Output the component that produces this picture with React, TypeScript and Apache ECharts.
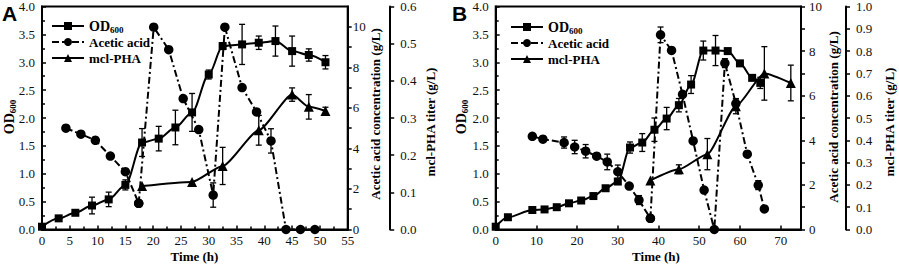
import React, { useEffect, useRef } from 'react';
import * as echarts from 'echarts';

// ---------- Panel A data ----------
const A_OD_T = [0, 3, 6, 9, 12, 15, 18, 21, 24, 27, 30, 32.5, 36, 39, 42, 45, 48, 51];
const A_OD_V = [0.05, 0.2, 0.3, 0.43, 0.54, 0.8, 1.56, 1.63, 1.83, 2.1, 2.78, 3.29, 3.32, 3.35, 3.38, 3.2, 3.13, 3.0];
const A_OD_E = [0, 0, 0, 0.15, 0.13, 0.09, 0.25, 0.22, 0.31, 0.34, 0.08, 0.06, 0.36, 0.12, 0.27, 0.27, 0.11, 0.12];

const A_AC1_T = [4.3, 7, 9.6, 12.3, 15, 17.4];
const A_AC1_V = [5.0, 4.7, 4.4, 3.62, 2.85, 1.29];
const A_AC1_E = [0, 0, 0.15, 0, 0, 0];
const A_AC2_T = [17.4, 20.1, 22.8, 25.4, 28.2, 30.8, 32.9, 36, 38.6, 41.2, 43.9, 46.5, 49.1];
const A_AC2_V = [1.29, 9.98, 8.87, 6.46, 4.93, 1.7, 9.98, 7.0, 5.8, 4.37, 0, 0, 0];
const A_AC2_E = [0, 0, 0, 0, 0, 0.6, 0, 0, 0, 0.6, 0, 0, 0];

const A_PHA_T = [18, 27, 32.5, 39, 45, 48, 51];
const A_PHA_V = [0.117, 0.128, 0.171, 0.267, 0.363, 0.33, 0.319];
const A_PHA_E = [0, 0, 0.05, 0.04, 0.018, 0.033, 0.01];

// ---------- Panel B data ----------
const B_OD_T = [0, 3, 9, 12, 15, 18, 21, 24, 27, 30, 33, 36, 39, 42, 45, 48, 51, 54, 57, 60, 63, 65];
const B_OD_V = [0.05, 0.22, 0.35, 0.36, 0.4, 0.47, 0.52, 0.6, 0.74, 0.86, 1.47, 1.56, 1.79, 1.99, 2.23, 2.6, 3.21, 3.21, 3.2, 2.98, 2.72, 2.63];
const B_OD_E = [0, 0, 0, 0, 0, 0, 0, 0, 0, 0, 0.1, 0.16, 0.21, 0.2, 0.12, 0.16, 0.17, 0.27, 0.05, 0, 0, 0.1];

const B_AC1_T = [9, 11.6, 16.8, 19.4, 22.1, 24.8, 27.4, 30, 32.8, 35.2, 38];
const B_AC1_V = [4.18, 4.05, 3.9, 3.7, 3.51, 3.29, 3.03, 2.59, 1.95, 1.32, 0.5];
const B_AC1_E = [0, 0, 0.25, 0.3, 0.3, 0, 0.35, 0.3, 0, 0.2, 0];
const B_AC2_T = [38, 40.5, 43.2, 45.9, 48.5, 51.2, 53.7, 56.3, 59, 61.8, 64.5, 66];
const B_AC2_V = [0.5, 8.73, 8.03, 6.06, 3.97, 1.77, 0, 7.46, 5.65, 3.38, 1.99, 0.92];
const B_AC2_E = [0, 0.35, 0, 0, 0, 0, 0, 0.2, 0.2, 0, 0.2, 0];

const B_PHA_T = [38, 45, 52, 59, 66, 72.5];
const B_PHA_V = [0.22, 0.27, 0.338, 0.553, 0.7, 0.657];
const B_PHA_E = [0, 0.02, 0.07, 0.034, 0.12, 0.08];

const SERIF = 'Liberation Serif';
const INK = '#000';

const zip = (t: number[], v: number[]) => t.map((x, i) => [x, v[i]]);

function errSeries(xi: number, yi: number, t: number[], v: number[], e: number[]) {
  const data = t.map((x, i) => [x, v[i], e[i]]).filter((d) => d[2] > 0);
  return {
    type: 'custom',
    xAxisIndex: xi,
    yAxisIndex: yi,
    z: 2,
    silent: true,
    renderItem: (_p: any, api: any) => {
      const x = api.value(0);
      const y = api.value(1);
      const er = api.value(2);
      const top = api.coord([x, y + er]);
      const bot = api.coord([x, y - er]);
      const style = { stroke: INK, lineWidth: 1.3 };
      return {
        type: 'group',
        children: [
          { type: 'line', shape: { x1: top[0], y1: top[1], x2: bot[0], y2: bot[1] }, style },
          { type: 'line', shape: { x1: top[0] - 3, y1: top[1], x2: top[0] + 3, y2: top[1] }, style },
          { type: 'line', shape: { x1: bot[0] - 3, y1: bot[1], x2: bot[0] + 3, y2: bot[1] }, style },
        ],
      };
    },
    data,
  };
}

function lineSeries(name: string, xi: number, yi: number, t: number[], v: number[], symbol: string, size: number, lineType: any, smooth: number | boolean) {
  return {
    type: 'line',
    name,
    xAxisIndex: xi,
    yAxisIndex: yi,
    data: zip(t, v),
    symbol,
    symbolSize: size,
    smooth,
    smoothMonotone: 'x',
    z: 3,
    lineStyle: { color: INK, width: 2, type: lineType },
    itemStyle: { color: INK, borderWidth: 0 },
  };
}

const labelStyle = { color: '#111', fontFamily: SERIF, fontSize: 13 };

function xAxis(gi: number, max: number, interval: number, minor: boolean) {
  return {
    type: 'value',
    gridIndex: gi,
    min: 0,
    max,
    interval,
    axisLine: { show: true, lineStyle: { color: INK, width: 2 } },
    axisTick: { show: true, inside: true, length: 4, lineStyle: { color: INK, width: 1.5 } },
    minorTick: { show: minor, splitNumber: 2, length: 3, lineStyle: { color: INK, width: 1.5 } },
    splitLine: { show: false },
    axisLabel: { ...labelStyle, margin: 4, formatter: (v: number) => (v > 70.5 && max === 75 ? '' : String(v)) },
  };
}

function odAxis(gi: number) {
  return {
    type: 'value',
    gridIndex: gi,
    position: 'left',
    min: 0,
    max: 4,
    interval: 0.5,
    axisLine: { show: true, lineStyle: { color: INK, width: 2 } },
    axisTick: { show: true, inside: true, length: 4, lineStyle: { color: INK, width: 1.5 } },
    minorTick: { show: true, splitNumber: 2, length: 3, lineStyle: { color: INK, width: 1.5 } },
    splitLine: { show: false },
    axisLabel: { ...labelStyle, margin: 7, formatter: (v: number) => v.toFixed(1) },
  };
}

function acAxis(gi: number, max: number, margin: number) {
  const ticks: number[] = [];
  for (let i = 0; i <= 10; i++) ticks.push(i);
  return {
    type: 'value',
    gridIndex: gi,
    position: 'right',
    min: 0,
    max,
    interval: 1,
    axisLine: { show: true, lineStyle: { color: INK, width: 2 } },
    axisTick: { show: true, inside: false, length: 4, customValues: ticks, lineStyle: { color: INK, width: 1.5 } },
    splitLine: { show: false },
    axisLabel: {
      ...labelStyle,
      margin,
      formatter: (v: number) => (v % 2 === 0 && v <= 10 ? String(v) : ''),
    },
  };
}

function phaAxis(gi: number, max: number, offset: number) {
  return {
    type: 'value',
    gridIndex: gi,
    position: 'right',
    offset,
    min: 0,
    max,
    interval: 0.1,
    axisLine: { show: true, lineStyle: { color: INK, width: 2 } },
    axisTick: { show: true, inside: false, length: 4, lineStyle: { color: INK, width: 1.5 } },
    splitLine: { show: false },
    axisLabel: { ...labelStyle, margin: 10, formatter: (v: number) => v.toFixed(1) },
  };
}

const legendRich = {
  a: { fontFamily: SERIF, fontWeight: 'bold', fontSize: 14, lineHeight: 16, color: INK },
  b: { fontFamily: SERIF, fontWeight: 'bold', fontSize: 9, lineHeight: 16, verticalAlign: 'bottom', color: INK },
  c: { fontFamily: SERIF, fontWeight: 'bold', fontSize: 13, lineHeight: 16, color: INK },
};

function legend(left: number, top: number) {
  return {
    orient: 'vertical',
    left,
    top,
    itemWidth: 32,
    itemHeight: 10,
    itemGap: 0,
    selectedMode: false,
    data: ['OD600', 'Acetic acid', 'mcl-PHA'],
    formatter: (n: string) => (n === 'OD600' ? '{a|OD}{b|600}' : '{c|' + n + '}'),
    textStyle: { fontFamily: SERIF, fontWeight: 'bold', fontSize: 13, lineHeight: 16, color: INK, rich: legendRich },
  };
}

function vText(x: number, y: number, text: string) {
  return {
    type: 'text',
    x,
    y,
    rotation: Math.PI / 2,
    style: { text, fontFamily: SERIF, fontWeight: 'bold', fontSize: 13, fill: INK, align: 'center', verticalAlign: 'middle' },
  };
}

function odTitle(x: number, y: number) {
  return {
    type: 'text',
    x,
    y,
    rotation: Math.PI / 2,
    style: {
      text: '{a|OD}{b|600}',
      align: 'center',
      verticalAlign: 'middle',
      fill: INK,
      rich: legendRich,
    },
  };
}

function hText(x: number, y: number, text: string) {
  return {
    type: 'text',
    x,
    y,
    style: { text, fontFamily: SERIF, fontWeight: 'bold', fontSize: 13, fill: INK, align: 'center', verticalAlign: 'middle' },
  };
}

export default function App() {
  const ref = useRef<HTMLDivElement>(null);
  useEffect(() => {
    if (!ref.current) return;
    const chart = echarts.init(ref.current, undefined, { renderer: 'svg' });
    const option: any = {
      animation: false,
      backgroundColor: '#fff',
      textStyle: { fontFamily: SERIF },
      grid: [
        { left: 42, right: 899 - 347.7, top: 6, bottom: 269 - 229.5, show: true, borderColor: INK, borderWidth: 2 },
        { left: 495.7, right: 899 - 801, top: 6, bottom: 269 - 229.5, show: true, borderColor: INK, borderWidth: 2 },
      ],
      xAxis: [xAxis(0, 55, 5, true), xAxis(1, 75, 10, false)],
      yAxis: [
        odAxis(0),
        acAxis(0, 11, 5),
        phaAxis(0, 0.6, 42.5),
        odAxis(1),
        acAxis(1, 10, 8),
        phaAxis(1, 1.0, 45),
      ],
      legend: [legend(46, 13), legend(505, 14)],
      series: [
        errSeries(0, 0, A_OD_T, A_OD_V, A_OD_E),
        errSeries(0, 1, A_AC1_T, A_AC1_V, A_AC1_E),
        errSeries(0, 1, A_AC2_T, A_AC2_V, A_AC2_E),
        errSeries(0, 2, A_PHA_T, A_PHA_V, A_PHA_E),
        lineSeries('OD600', 0, 0, A_OD_T, A_OD_V, 'rect', 8, 'solid', 0.3),
        lineSeries('Acetic acid', 0, 1, A_AC1_T, A_AC1_V, 'circle', 9.5, [7, 3], false),
        lineSeries('Acetic acid (cont.)', 0, 1, A_AC2_T, A_AC2_V, 'circle', 9.5, [7, 3, 2, 3], false),
        lineSeries('mcl-PHA', 0, 2, A_PHA_T, A_PHA_V, 'triangle', 10, 'solid', 0.2),

        errSeries(1, 3, B_OD_T, B_OD_V, B_OD_E),
        errSeries(1, 4, B_AC1_T, B_AC1_V, B_AC1_E),
        errSeries(1, 4, B_AC2_T, B_AC2_V, B_AC2_E),
        errSeries(1, 5, B_PHA_T, B_PHA_V, B_PHA_E),
        lineSeries('OD600', 1, 3, B_OD_T, B_OD_V, 'rect', 8, 'solid', 0.3),
        lineSeries('Acetic acid', 1, 4, B_AC1_T, B_AC1_V, 'circle', 9.5, [7, 3], false),
        lineSeries('Acetic acid (cont.)', 1, 4, B_AC2_T, B_AC2_V, 'circle', 9.5, [7, 3, 2, 3], false),
        lineSeries('mcl-PHA', 1, 5, B_PHA_T, B_PHA_V, 'triangle', 10, 'solid', 0.2),
      ],
      graphic: [
        { type: 'text', x: 2, y: 3, style: { text: 'A', fontFamily: 'Liberation Sans', fontWeight: 'bold', fontSize: 21, fill: INK } },
        { type: 'text', x: 452, y: 3, style: { text: 'B', fontFamily: 'Liberation Sans', fontWeight: 'bold', fontSize: 21, fill: INK } },
        odTitle(9, 117),
        odTitle(461, 117),
        hText(194.5, 256, 'Time (h)'),
        hText(656, 256, 'Time (h)'),
        vText(375, 114, 'Acetic acid concentration (g/L)'),
        vText(430, 122, 'mcl-PHA titer (g/L)'),
        vText(833, 117, 'Acetic acid concentration (g/L)'),
        vText(889, 122, 'mcl-PHA titer (g/L)'),
      ],
    };
    chart.setOption(option);
    return () => chart.dispose();
  }, []);
  return <div ref={ref} style={{ position: 'absolute', left: 0, top: 0, width: 899, height: 269 }} />;
}
